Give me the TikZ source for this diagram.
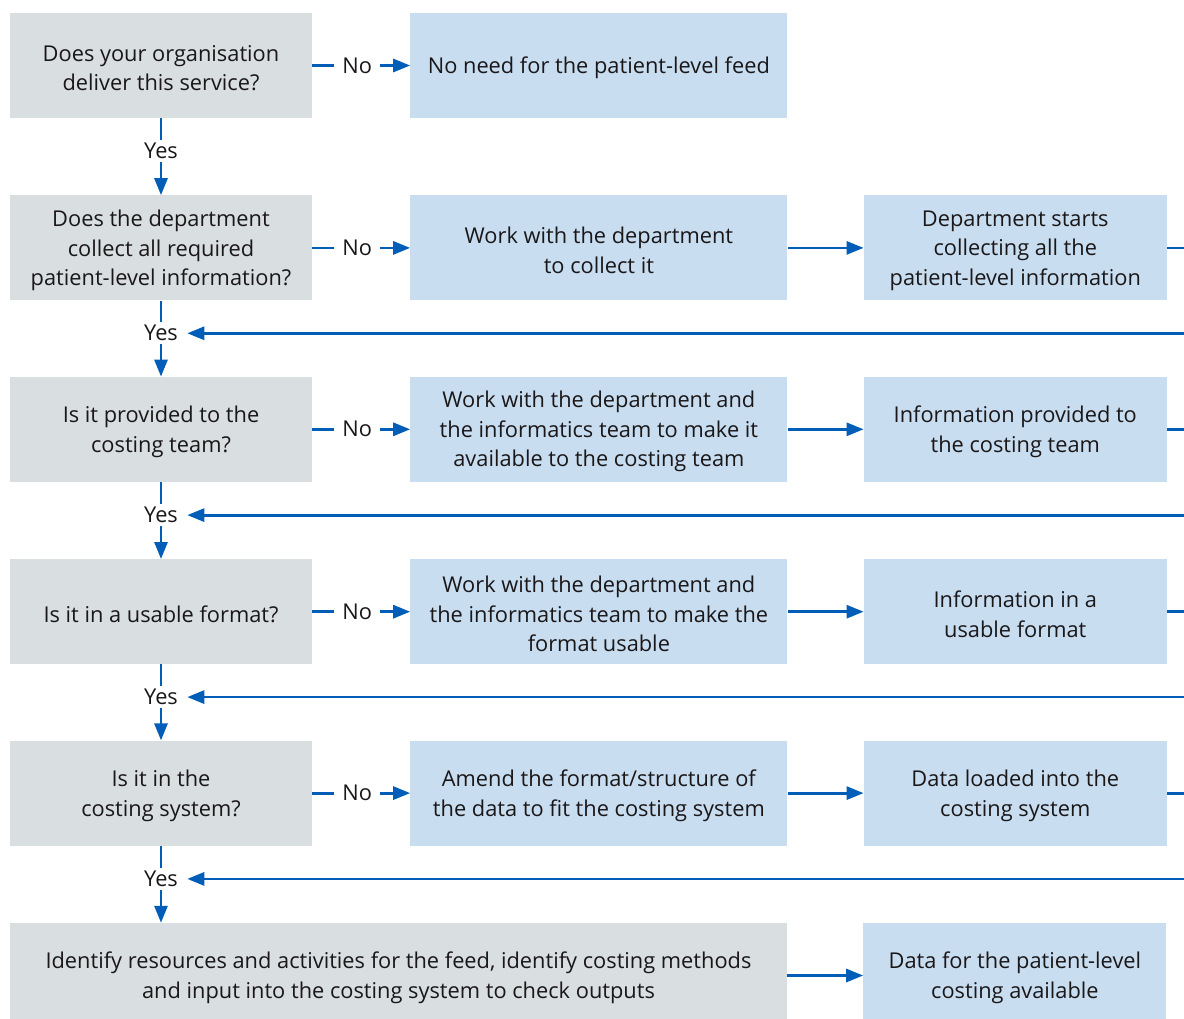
\documentclass[tikz,border=0pt]{standalone}
\usepackage{fontspec}
\setmainfont{Open Sans}
\usetikzlibrary{positioning,arrows.meta}
\definecolor{qgrey}{HTML}{D9DEE1}
\definecolor{ablue}{HTML}{C9DDF1}
\definecolor{nhsblue}{HTML}{005EB8}
\definecolor{inkgrey}{HTML}{1A1718}

\begin{document}
\begin{tikzpicture}[
            x=1pt, y=1pt,
            every node/.style={font=\fontsize{21.8}{29.5}\selectfont, text=inkgrey, align=center, inner sep=0pt},
            box/.style={minimum height=105pt,
                execute at begin node={\vbox\bgroup\kern5pt\hbox\bgroup},
                execute at end node={\egroup\egroup}},
            question/.style={box, fill=qgrey, minimum width=302pt},
            action/.style={box, fill=ablue, minimum width=377pt},
            result/.style={box, fill=ablue, minimum width=303pt},
            flow/.style={draw=nhsblue, line width=2.8pt, -{Triangle[length=17pt,width=13pt]}},
            answer/.style={fill=white, inner xsep=8pt, inner ysep=3pt}
        ]
            \useasboundingbox (0,0) rectangle (1184,-1018);
            % questions down the left
            \node [question] (q1) at (161,-65.5) {Does your organisation\\deliver this service?};
            \node [question, below=77pt of q1] (q2) {Does the department\\collect all required\\patient-level information?};
            \node [question, below=76pt of q2] (q3) {Is it provided to the\\costing team?};
            \node [question, below=77pt of q3] (q4) {Is it in a usable format?};
            \node [question, below=76pt of q4] (q5) {Is it in the\\costing system?};
            \node [question, minimum width=777pt, below right=77pt and 0pt of q5.south west] (q6) {Identify resources and activities for the feed, identify costing methods\\and input into the costing system to check outputs};
            % actions
            \node [action, right=98pt of q1] (a1) {No need for the patient-level feed};
            \node [action, right=98pt of q2] (a2) {Work with the department\\to collect it};
            \node [action, right=98pt of q3] (a3) {Work with the department and\\the informatics team to make it\\available to the costing team};
            \node [action, right=98pt of q4] (a4) {Work with the department and\\the informatics team to make the\\format usable};
            \node [action, right=98pt of q5] (a5) {Amend the format/structure of\\the data to fit the costing system};
            % results
            \node [result, right=76pt of a2] (c2) {Department starts\\collecting all the\\patient-level information};
            \node [result, right=76pt of a3] (c3) {Information provided to\\the costing team};
            \node [result, right=76pt of a4] (c4) {Information in a\\usable format};
            \node [result, right=76pt of a5] (c5) {Data loaded into the\\costing system};
            \node [result, right=76pt of q6] (c6) {Data for the patient-level\\costing available};
            % no branches
            \draw [flow] (q1) -- node [answer, pos=0.46] {No} (a1);
            \draw [flow] (q2) -- node [answer, pos=0.46] {No} (a2);
            \draw [flow] (q3) -- node [answer, pos=0.46] {No} (a3);
            \draw [flow] (q4) -- node [answer, pos=0.46] {No} (a4);
            \draw [flow] (q5) -- node [answer, pos=0.46] {No} (a5);
            % yes branches
            \draw [flow] (q1) -- node [answer, pos=0.43] (yes1) {Yes} (q2);
            \draw [flow] (q2) -- node [answer, pos=0.43] (yes2) {Yes} (q3);
            \draw [flow] (q3) -- node [answer, pos=0.43] (yes3) {Yes} (q4);
            \draw [flow] (q4) -- node [answer, pos=0.43] (yes4) {Yes} (q5);
            \draw [flow] (q5.south) -- node [answer, pos=0.43] (yes5) {Yes} (q5.south |- q6.north);
            % actions to results
            \draw [flow] (a2) -- (c2);
            \draw [flow] (a3) -- (c3);
            \draw [flow] (a4) -- (c4);
            \draw [flow] (a5) -- (c5);
            \draw [flow] (q6) -- (c6);
            % back into the main line
            \draw [flow] (c2.east) -- ++(40,0) |- (yes2.east);
            \draw [flow] (c3.east) -- ++(40,0) |- (yes3.east);
            \draw [flow] (c4.east) -- ++(40,0) |- (yes4.east);
            \draw [flow] (c5.east) -- ++(40,0) |- (yes5.east);
        \end{tikzpicture}
\end{document}
